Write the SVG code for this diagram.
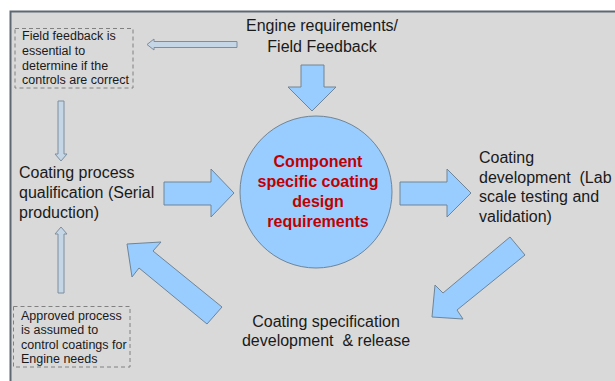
<svg xmlns="http://www.w3.org/2000/svg" width="615" height="381" viewBox="0 0 615 381">
<style>
.t{font-family:"Liberation Sans",Arial,sans-serif;fill:#1a1a1a}
.m{font-size:16px}
.s{font-size:12.5px}
.c{font-size:16px;font-weight:bold;fill:#c00000;text-anchor:middle}
.big{fill:#99ccff;stroke:#6f8597;stroke-width:1}
.thin{fill:#c5d6e6;stroke:#7d8e9e;stroke-width:1}
.dash{fill:none;stroke:#808080;stroke-width:1;stroke-dasharray:4 3}
</style>
<rect x="0" y="0" width="615" height="381" fill="#ffffff"/>
<rect x="10.5" y="11.5" width="620" height="380" fill="#d9d9d9" stroke="#5d6872" stroke-width="2"/>

<g id="connectors">
<path class="thin" d="M147,44.5 L154,39 L154,41.5 L237,41.5 L237,47.5 L154,47.5 L154,50 Z"/>
<path class="thin" d="M58,101 L64,101 L64,154 L67,154 L61,161 L55,154 L58,154 Z"/>
<path class="thin" d="M61,227 L67,234 L64,234 L64,293 L58,293 L58,234 L55,234 Z"/>
<path class="big" d="M301,65 L324,65 L324,87 L336,87 L312,111 L288,87 L301,87 Z"/>
<path class="big" d="M164,182 L211,182 L211,169 L234,193 L211,217 L211,205 L164,205 Z"/>
<path class="big" d="M400,182 L447,182 L447,169 L471,193 L447,217 L447,205 L400,205 Z"/>
<path class="big" d="M510,237 L525,255 L457,310 L463,319 L432,317 L435,285 L443,293 Z"/>
<path class="big" d="M127,244 L161,242 L153,251 L222,307 L207,324 L139,268 L132,277 Z"/>
</g>

<g id="engine-req">
<text class="t m" x="322" y="31" text-anchor="middle">Engine requirements/</text>
<text class="t m" x="322" y="52" text-anchor="middle">Field Feedback</text>
</g>

<g id="field-note">
<rect class="dash" x="15" y="28.5" width="118" height="59.5"/>
<text class="t s" x="22" y="40">Field feedback is</text>
<text class="t s" x="22" y="55">essential to</text>
<text class="t s" x="22" y="69.5">determine if the</text>
<text class="t s" x="22" y="84">controls are correct</text>
</g>

<g id="approved-note">
<rect class="dash" x="13.5" y="306.5" width="116.5" height="60.5"/>
<text class="t s" x="21" y="319.5">Approved process</text>
<text class="t s" x="21" y="334">is assumed to</text>
<text class="t s" x="21" y="348.5">control coatings for</text>
<text class="t s" x="21" y="363">Engine needs</text>
</g>

<g id="center">
<circle cx="316" cy="192" r="76" fill="#99ccff" stroke="#6f8597" stroke-width="1"/>
<text class="t c" x="318" y="167">Component</text>
<text class="t c" x="318" y="187">specific coating</text>
<text class="t c" x="318" y="207">design</text>
<text class="t c" x="318" y="227">requirements</text>
</g>

<g id="qualification">
<text class="t m" x="19" y="178">Coating process</text>
<text class="t m" x="19" y="198">qualification (Serial</text>
<text class="t m" x="19" y="218">production)</text>
</g>

<g id="development">
<text class="t m" x="479" y="163">Coating</text>
<text class="t m" x="479" y="182.5" xml:space="preserve">development  (Lab</text>
<text class="t m" x="479" y="202">scale testing and</text>
<text class="t m" x="479" y="221.5">validation)</text>
</g>

<g id="specification">
<text class="t m" x="326" y="327" text-anchor="middle">Coating specification</text>
<text class="t m" x="326" y="346" text-anchor="middle" xml:space="preserve">development  &amp; release</text>
</g>
</svg>
